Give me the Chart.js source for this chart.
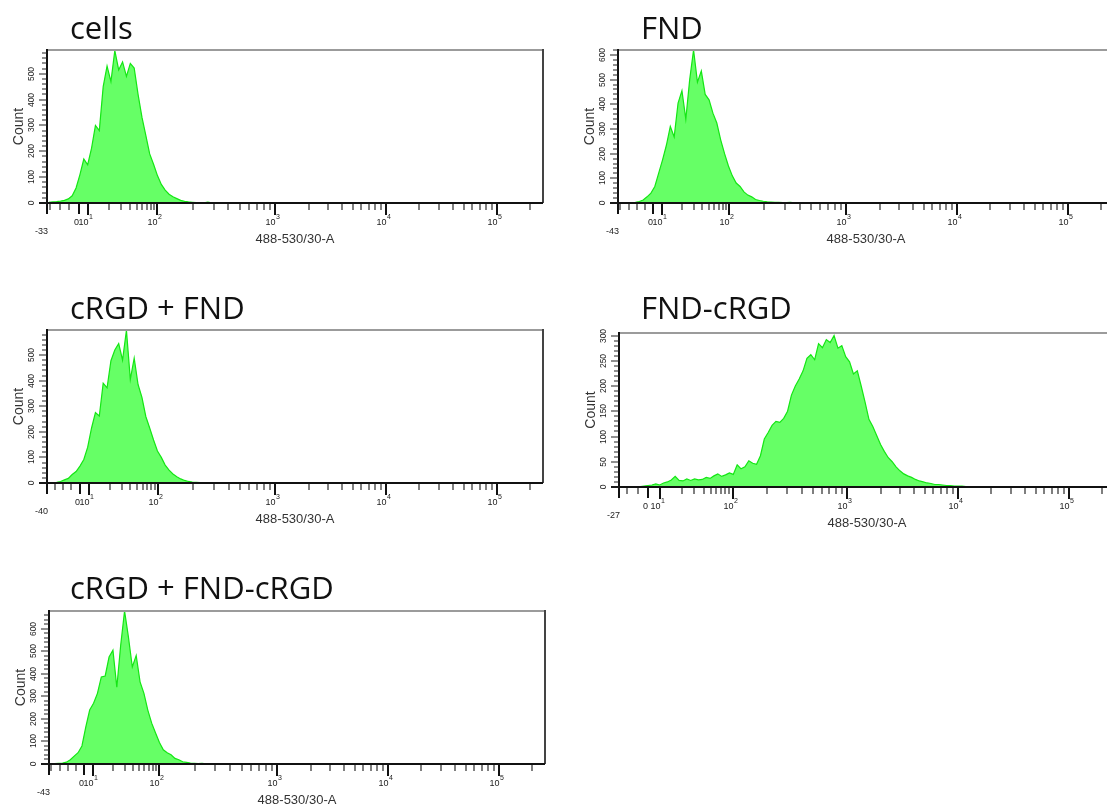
<!DOCTYPE html>
<html>
<head>
<meta charset="utf-8">
<script src="https://cdn.jsdelivr.net/npm/chart.js@4.4.0/dist/chart.umd.min.js"></script>
<style>
  html, body { margin: 0; padding: 0; background: #fff; }
  body { width: 1107px; height: 808px; position: relative; overflow: hidden; }
  canvas { position: absolute; }
</style>
</head>
<body>
<script>
// Histogram counts per display channel (128 channels across the 488-530/30-A axis)
const cellsCounts = [3, 4, 5, 7, 10, 16, 28, 58, 110, 170, 148, 212, 300, 280, 450, 530, 470, 590, 515, 546,
  490, 540, 522, 420, 332, 262, 190, 150, 106, 72, 50, 34, 24, 17, 10, 6, 4, 3, 2, 2,
  1, 3, 1, 1, 0, 1, 0, 0, 1, 0, 0, 1, 0, 0, 0, 1, 0, 0, 0, 0, 1, 0];
const fndCounts = [0, 1, 1, 2, 3, 6, 12, 25, 40, 67, 121, 175, 235, 310, 268, 405, 455, 340, 500, 620,
  490, 535, 440, 418, 364, 324, 256, 200, 150, 110, 81, 67, 45, 32, 25, 14, 10, 7, 5, 4,
  3, 3, 2, 2, 3, 1, 2, 1, 2, 1, 1, 2, 1, 0, 1, 1, 0, 1, 0, 0, 1, 0, 0, 1, 0, 0, 0, 1, 0];
const crgdFndCounts = [0, 1, 3, 6, 12, 18, 33, 45, 66, 92, 140, 215, 275, 262, 390, 372, 478, 520, 545, 480,
  597, 405, 488, 385, 335, 260, 215, 168, 125, 100, 70, 50, 35, 24, 16, 10, 6, 4, 3, 2,
  2, 1, 2, 1, 1, 0, 1, 1, 1, 0, 1, 0, 0, 1, 0];
const fndCrgdCounts = [0, 0, 0, 0, 0, 1, 2, 3, 4, 6, 4, 8, 10, 14, 21, 13, 12, 16, 13, 16,
  14, 15, 19, 17, 22, 26, 21, 24, 28, 25, 44, 36, 40, 52, 47, 45, 62, 95, 108, 122,
  130, 128, 136, 150, 182, 200, 214, 230, 255, 262, 252, 284, 276, 292, 286, 300, 275, 280, 258, 248,
  224, 230, 200, 168, 134, 120, 102, 84, 70, 58, 50, 40, 32, 26, 22, 19, 15, 12, 10, 8,
  7, 5, 5, 4, 3, 3, 2, 2, 2, 1, 1, 1, 0];
const crgdFndCrgdCounts = [0, 2, 3, 4, 8, 19, 35, 50, 80, 165, 239, 269, 313, 386, 390, 474, 504, 340, 526, 678,
  562, 430, 481, 364, 313, 239, 181, 137, 95, 63, 50, 41, 25, 19, 10, 7, 4, 3, 2, 3,
  1, 2, 2, 1, 2, 1, 1, 2, 1, 1, 1, 1, 1, 0];

const panelTitles = ['cells', 'FND', 'cRGD + FND', 'FND-cRGD', 'cRGD + FND-cRGD'];
const panelCounts = [cellsCounts, fndCounts, crgdFndCounts, fndCrgdCounts, crgdFndCrgdCounts];
const axisMinimums = [-33, -43, -40, -27, -43];
const countMaximums = [592, 620, 598, 305, 678];
const countSteps = [100, 100, 100, 50, 100];
const countMinorSteps = [20, 20, 20, 10, 20];
const xAxisTitle = '488-530/30-A';

// channel where 0, 10 and 100 sit on each panel's biexponential axis
const zeroChannels = [8.25, 9.05, 8.4, 7.6, 9.0];
const tenChannels = [10.6, 11.4, 10.8, 10.5, 11.4];
const hundredChannels = [28.5, 28.65, 28.6, 29.3, 28.4];
// 10^3, 10^4, 10^5 channels, shared by all panels
const upperDecades = [58.9, 87.5, 116.1];
const channelMax = 128;
const axisTop = 262144;

// plot-area placement on the page, and where each title sits
const plots = [
  { left: 47, top: 50, h: 153, titleX: 70, titleY: 39 },
  { left: 618, top: 50, h: 153, titleX: 641, titleY: 39 },
  { left: 47, top: 330, h: 153, titleX: 70, titleY: 319 },
  { left: 619, top: 333, h: 154, titleX: 641, titleY: 319 },
  { left: 49, top: 611, h: 153, titleX: 70, titleY: 599 }
];

const TICK_FONT = '"Liberation Sans", Arial, sans-serif';

function channelFor(v, o) {
  if (v <= 0) return o.zeroCh * (1 - v / o.minVal);
  if (v <= 10) return o.zeroCh + (o.tenCh - o.zeroCh) * v / 10;
  if (v <= 100) return o.tenCh + (o.hundredCh - o.tenCh) * Math.log10(v / 10);
  const d = [o.hundredCh, ...upperDecades];
  const e = Math.log10(v) - 2;
  let k = Math.min(Math.floor(e), d.length - 2);
  return d[k] + (d[k + 1] - d[k]) * (e - k);
}

const facsAxes = {
  id: 'facsAxes',
  afterDatasetsDraw(chart, args, o) {
    const { ctx, chartArea: a, scales: { x, y } } = chart;
    const L = a.left, R = a.right, T = a.top, B = a.bottom;
    ctx.save();

    // frame
    ctx.fillStyle = '#9b9b9b';
    ctx.fillRect(L, T - 1, R - L, 2);
    ctx.fillStyle = '#444';
    ctx.fillRect(R - 1, T - 1, 2, B - T + 1);
    ctx.fillStyle = '#111';
    ctx.fillRect(L - 1, T - 1, 2, B - T + 12);
    ctx.fillRect(L - 8, B - 1, R - L + 8, 2);

    // count axis
    for (let v = 0; v <= y.max; v += o.yMinor) {
      const py = Math.round(y.getPixelForValue(v));
      const major = v % o.yStep === 0;
      ctx.fillStyle = '#222';
      ctx.fillRect(L - (major ? 8 : 5), py - 0.5, major ? 8 : 5, 1);
      if (major) {
        ctx.save();
        ctx.translate(L - 15, py);
        ctx.rotate(-Math.PI / 2);
        ctx.font = '8.5px ' + TICK_FONT;
        ctx.fillStyle = '#222';
        ctx.textAlign = 'center';
        ctx.textBaseline = 'middle';
        ctx.fillText(String(v), 0, 0);
        ctx.restore();
      }
    }
    ctx.save();
    ctx.translate(L - 28, (T + B) / 2);
    ctx.rotate(-Math.PI / 2);
    ctx.font = '14px ' + TICK_FONT;
    ctx.fillStyle = '#333';
    ctx.textAlign = 'center';
    ctx.textBaseline = 'middle';
    ctx.fillText('Count', 0, 0);
    ctx.restore();

    // fluorescence axis ticks
    const xp = v => Math.round(x.getPixelForValue(channelFor(v, o)));
    const tick = (v, len, w, color) => {
      ctx.fillStyle = color;
      ctx.fillRect(xp(v) - w / 2, B + 1, w, len);
    };
    for (let m = -10; m > o.minVal; m -= 10) tick(m, 6, 1.5, '#555');
    for (const dec of [10, 100, 1e3, 1e4, 1e5]) {
      for (let k = 2; k <= 9; k++) {
        if (k * dec <= axisTop) tick(k * dec, 6, 1.5, '#555');
      }
    }
    tick(0, 10, 2, '#111');
    [10, 100, 1e3, 1e4, 1e5].forEach(v => tick(v, 11, 2, '#111'));

    ctx.fillStyle = '#222';
    ctx.textBaseline = 'alphabetic';
    ctx.font = '9px ' + TICK_FONT;
    ctx.textAlign = 'right';
    ctx.fillText(String(o.minVal), L + 1, B + 31);
    ctx.fillText('0', xp(0), B + 22);
    [1, 2, 3, 4, 5].forEach(p => {
      const px = xp(Math.pow(10, p));
      ctx.font = '9px ' + TICK_FONT;
      ctx.textAlign = 'right';
      ctx.fillText('10', px + 0.5, B + 22);
      ctx.font = '7px ' + TICK_FONT;
      ctx.textAlign = 'left';
      ctx.fillText(String(p), px + 1, B + 16);
    });

    ctx.font = '13px ' + TICK_FONT;
    ctx.textAlign = 'center';
    ctx.fillStyle = '#333';
    ctx.fillText(xAxisTitle, (L + R) / 2, B + 40);

    // panel title, placed in page coordinates
    const box = chart.canvas.getBoundingClientRect();
    ctx.font = '31px "Open Sans", "Noto Sans", sans-serif';
    ctx.fillStyle = '#111';
    ctx.textAlign = 'left';
    ctx.fillText(o.title, o.titleX - box.left, o.titleY - box.top);

    ctx.restore();
  }
};

panelCounts.forEach((counts, i) => {
  const p = plots[i];
  const canvas = document.createElement('canvas');
  const w = 560, h = 50 + p.h + 50;
  canvas.width = w;
  canvas.height = h;
  canvas.style.width = w + 'px';
  canvas.style.height = h + 'px';
  canvas.style.left = (p.left - 47) + 'px';
  canvas.style.top = (p.top - 50) + 'px';
  document.body.appendChild(canvas);

  new Chart(canvas, {
    type: 'line',
    data: {
      datasets: [{
        data: counts.map((c, k) => ({ x: k + 0.5, y: c })),
        fill: 'origin',
        backgroundColor: '#66ff66',
        borderColor: '#14e614',
        borderWidth: 1.2,
        pointRadius: 0,
        tension: 0
      }]
    },
    options: {
      responsive: false,
      animation: false,
      devicePixelRatio: 1,
      layout: { padding: { left: 47, right: w - 47 - 496, top: 50, bottom: 50 } },
      scales: {
        x: { type: 'linear', min: 0, max: channelMax, display: false },
        y: { min: 0, max: countMaximums[i], display: false }
      },
      plugins: {
        legend: { display: false },
        tooltip: { enabled: false },
        facsAxes: {
          title: panelTitles[i],
          titleX: p.titleX,
          titleY: p.titleY,
          minVal: axisMinimums[i],
          zeroCh: zeroChannels[i],
          tenCh: tenChannels[i],
          hundredCh: hundredChannels[i],
          yStep: countSteps[i],
          yMinor: countMinorSteps[i]
        }
      }
    },
    plugins: [facsAxes]
  });
});
</script>
</body>
</html>
